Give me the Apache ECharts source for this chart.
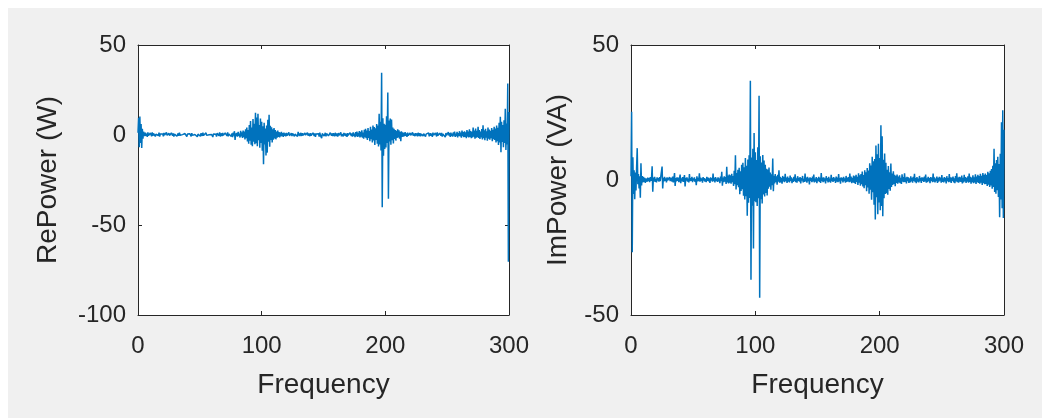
<!DOCTYPE html>
<html>
<head>
<meta charset="utf-8">
<script src="https://cdn.jsdelivr.net/npm/echarts@6/dist/echarts.min.js"></script>
<style>
  html, body { margin: 0; padding: 0; background: #fff; }
  #chart { width: 1050px; height: 420px; }
</style>
</head>
<body>
<div id="chart"></div>
<script>
const LINE_COLOR = '#0072BD';
const TEXT_COLOR = '#262626';
const FONT = 'Liberation Sans, Arial, Helvetica, sans-serif';

// frequency step of the samples (Hz), 0 .. 300
const freqStep = 0.5;
const freqTicks = [0, 100, 200, 300];
const reTicks = [-100, -50, 0, 50];
const imTicks = [-50, 0, 50];

// real power (W), one value per 0.5 Hz
const rePower = [
  1.2, 9.5, -6.8, 10.2, -4.5, 6.1, -7.2, 3.4, -2.1, 1.8,
  0.9, -0.6, 1.3, -0.4, 0.8, -1.1, 1.5, -0.3, 0.6, -0.9,
  1.1, 0.2, -0.7, 1.4, -0.5, 0.9, -0.2, 1.2, -0.8, 0.4,
  1.0, -0.6, 0.7, -0.3, 1.3, -0.9, 0.5, 0.1, 1.1, -0.4,
  0.6, -0.8, 1.2, 0.0, 0.9, -0.5, 1.4, -0.2, 0.3, -0.7,
  1.0, -0.3, 0.8, -0.6, 1.2, 0.2, -0.4, 0.9, -0.9, 0.5,
  0.7, -0.2, 1.1, -0.7, 0.4, 0.9, -0.5, 1.3, -0.1, 0.6,
  -0.8, 1.0, 0.2, -0.4, 1.2, -0.6, 0.8, 0.0, 1.1, -0.9,
  0.5, -0.3, 1.4, -0.5, 0.7, 0.1, -0.8, 1.0, -0.2, 0.6,
  0.9, -0.6, 0.3, 1.2, -0.4, 0.8, -1.0, 0.5, 1.1, -0.2,
  0.4, -0.7, 1.0, 0.2, -0.5, 1.3, -0.3, 0.7, -0.9, 0.6,
  1.2, -0.2, 0.5, -0.8, 0.9, 0.1, -0.4, 1.1, -0.6, 0.3,
  0.8, -1.1, 0.6, 0.2, 1.3, -0.5, 0.4, -0.9, 1.0, -0.1,
  0.7, -0.4, 1.5, -0.8, 0.3, 0.9, -0.6, 1.2, -0.2, 0.5,
  -0.9, 1.1, 0.0, 0.8, -0.5, 1.4, -0.7, 0.6, 0.2, -0.3,
  1.6, -0.8, 0.9, -1.2, 1.3, -0.4, 2.1, -2.8, 1.0, -0.6,
  1.2, -0.9, 1.8, -0.5, 0.7, -1.4, 2.3, -0.8, 1.5, -1.6,
  2.4, -1.2, 1.9, -2.5, 3.1, -1.8, 4.2, -3.6, 2.8, -4.8,
  5.5, -3.2, 7.8, -5.4, 4.1, -6.2, 8.9, -3.8, 6.3, -5.1,
  12.4, -4.6, 9.7, -6.3, 11.8, -2.9, 5.6, -7.1, 9.2, -4.4,
  7.3, -8.8, 4.9, -16.2, 6.8, -5.3, 3.6, -11.4, 5.2, -9.8,
  8.4, -3.7, 11.2, -6.5, 5.1, -2.8, 4.3, -4.1, 3.2, -2.6,
  3.8, -1.9, 2.7, -2.4, 1.9, -1.5, 2.4, -1.1, 1.6, -1.3,
  1.4, -0.8, 1.8, -0.6, 1.1, -1.0, 1.3, -0.4, 0.9, -0.7,
  1.2, -0.3, 0.8, -0.9, 1.5, -0.5, 0.6, 0.1, 1.0, -0.6,
  0.9, -0.2, 1.3, -0.7, 0.5, 1.1, -0.4, 0.8, -0.8, 1.7,
  -0.3, 0.9, -0.6, 1.2, 0.2, -0.5, 1.0, -0.2, 0.7, -0.9,
  1.1, -0.1, 0.6, -0.7, 1.3, -0.4, 0.8, 0.1, -0.6, 1.0,
  -0.3, 0.7, -0.8, 1.2, 0.3, -0.5, 0.9, -1.0, 0.6, 0.2,
  1.1, -0.4, 0.7, -0.9, 1.3, -0.2, 0.5, -1.8, 0.8, -0.3,
  1.0, -0.6, 0.4, 1.2, -0.7, 0.8, -0.1, 1.1, -0.5, 0.6,
  -0.8, 1.3, 0.2, -0.4, 0.9, -0.6, 1.0, 0.0, -0.7, 1.2,
  0.3, -0.5, 0.8, -0.9, 1.1, -0.2, 0.6, -0.4, 1.4, -0.7,
  0.5, 0.1, -0.8, 1.2, -0.3, 0.9, -0.6, 0.7, -1.1, 1.0,
  -0.2, 0.6, -0.7, 1.3, 0.2, -0.5, 0.9, -0.9, 1.5, -0.4,
  0.8, -1.2, 1.6, -0.6, 1.9, -1.0, 1.2, -0.8, 2.2, -1.3,
  1.7, -0.9, 2.6, -1.5, 1.4, -2.1, 2.9, -1.2, 3.4, -1.8,
  2.5, -2.8, 3.9, -1.6, 2.2, -3.4, 4.6, -2.4, 3.1, -4.2,
  5.2, -3.1, 4.4, -5.6, 3.7, -2.7, 6.1, -4.8, 5.3, -6.4,
  11.8, -5.2, 7.4, -8.6, 34.6, -40.2, 9.3, -11.5, 6.2, -7.8,
  5.7, -6.9, 10.4, -4.5, 23.6, -35.4, 8.1, -3.6, 9.2, -5.4,
  8.6, -2.9, 4.1, -4.7, 3.5, -2.2, 2.8, -3.1, 2.3, -1.7,
  3.1, -1.4, 2.6, -2.0, 1.8, -3.4, 2.1, -1.1, 1.5, -0.9,
  1.2, -0.7, 1.6, -0.5, 0.9, -1.1, 1.3, -0.3, 0.7, -0.8,
  1.1, -0.2, 0.6, -0.9, 1.4, -0.4, 0.8, 0.1, -0.6, 1.0,
  -0.3, 0.9, -0.7, 1.2, 0.2, -0.5, 1.0, -0.8, 0.6, 0.3,
  1.1, -0.6, 0.7, -0.2, 1.3, -0.9, 0.5, 0.0, 0.9, -0.4,
  1.2, -0.7, 0.4, 1.0, -0.5, 0.8, -1.0, 1.3, -0.1, 0.6,
  -0.6, 1.1, 0.2, -0.8, 1.4, -0.3, 0.7, -0.7, 1.0, 0.1,
  -0.4, 1.2, -0.9, 0.6, 1.5, -0.5, 0.9, -1.2, 1.1, -0.2,
  0.8, -0.7, 1.6, -0.3, 1.0, -1.1, 1.3, -0.6, 0.7, -0.9,
  1.4, -0.4, 1.9, -1.0, 0.8, -0.6, 1.7, -1.3, 1.1, -0.5,
  2.1, -0.8, 1.3, -1.5, 2.4, -0.7, 1.6, -1.2, 2.0, -1.0,
  1.5, -1.8, 2.7, -0.9, 1.9, -1.4, 3.2, -1.1, 2.2, -1.7,
  1.8, -1.3, 4.1, -0.9, 2.4, -2.0, 3.6, -1.5, 2.3, -1.2,
  4.6, -1.6, 2.8, -2.2, 1.9, -1.4, 3.3, -2.5, 5.4, -1.8,
  2.6, -2.9, 3.4, -1.5, 2.1, -3.2, 4.2, -2.0, 3.0, -2.6,
  2.4, -1.8, 3.8, -3.5, 2.9, -2.3, 4.5, -2.8, 3.6, -4.1,
  5.2, -3.4, 4.0, -5.6, 6.8, -4.2, 10.1, -9.6, 7.3, -3.9,
  5.6, -6.8, 8.2, -4.5, 14.6, -8.3, 6.4, -5.2, 28.6, -70.4,
  12.8
];

// imaginary power (VA), one value per 0.5 Hz
const imPower = [
  1.4, 25.3, -26.8, 8.4, -5.2, 3.6, -7.1, 2.8, -3.9, 4.5,
  11.8, -1.6, 2.2, -3.1, 1.4, -6.6, 6.2, -2.0, 1.5, -0.9,
  1.2, -0.7, 0.8, -1.1, 0.5, 1.0, -0.6, 0.9, -0.4, 0.7,
  -0.8, 1.1, -0.3, 0.6, 5.1, -4.3, 0.9, -0.5, 1.2, -0.7,
  0.4, -0.9, 1.0, -0.2, 0.7, -0.6, 1.1, -0.4, 0.3, -0.8,
  5.0, -3.1, 0.8, -0.5, 1.2, -0.3, 0.6, -0.9, 1.0, -0.1,
  0.5, -0.7, 1.1, -0.4, 0.8, 0.2, -0.6, 1.3, -0.9, 0.4,
  2.6, -2.2, 0.7, -0.5, 1.0, -0.3, 0.9, -0.8, 0.4, 2.0,
  -1.2, 0.6, -0.4, 1.1, -0.7, 0.3, 1.8, -2.4, 0.8, -0.2,
  1.0, -0.6, 0.5, -0.9, 2.2, -0.4, 0.7, -0.3, 1.2, -0.8,
  0.6, -0.2, 1.0, -0.7, 0.3, -1.9, 1.4, -0.5, 0.8, -0.4,
  2.5, -0.6, 0.9, -0.3, 0.6, -1.0, 1.1, -0.2, 0.7, -0.6,
  0.4, -0.8, 1.2, -0.3, 0.9, -0.5, 0.6, -1.1, 1.0, -0.2,
  0.7, -0.6, 2.4, -0.4, 0.8, -0.9, 1.1, -0.3, 0.5, -0.7,
  1.0, -0.5, 0.6, -1.2, 1.3, -0.4, 3.0, -2.1, 0.9, -0.8,
  1.4, -0.6, 1.1, -1.5, 4.9, -0.9, 1.6, -1.3, 2.0, -1.0,
  1.7, -1.4, 2.3, -0.8, 1.5, -2.2, 3.4, -1.6, 9.2, -3.5,
  2.6, -1.9, 3.8, -2.7, 4.5, -5.3, 3.2, -4.1, 5.6, -3.4,
  6.4, -5.8, 4.7, -7.2, 8.1, -6.0, 5.3, -13.2, 7.6, -8.4,
  9.2, -6.7, 36.8, -36.9, 8.3, -9.5, 11.6, -25.4, 17.4, -7.9,
  10.3, -8.2, 7.4, -9.6, 12.1, -6.8, 31.2, -43.6, 8.8, -7.1,
  6.5, -8.7, 9.3, -5.4, 7.2, -6.1, 5.6, -4.8, 4.2, -5.7,
  3.9, -3.2, 4.6, -2.5, 2.8, -3.6, 2.1, -1.9, 8.0, -4.2,
  1.6, -1.3, 2.2, -0.8, 1.4, -1.7, 1.9, -0.6, 3.6, -1.0,
  1.2, -0.9, 0.8, -1.4, 1.5, -0.5, 1.1, -0.8, 2.3, -0.4,
  0.9, -1.1, 1.3, -0.6, 0.7, -0.9, 1.6, -0.3, 1.0, -1.2,
  0.5, -0.7, 1.2, -0.4, 2.1, -0.8, 0.6, -1.0, 1.4, -0.3,
  0.8, -0.6, 1.1, -1.3, 0.7, -0.2, 1.5, -0.9, 0.4, -0.7,
  2.4, -0.5, 0.9, -1.0, 1.2, -0.4, 0.6, -1.6, 1.0, -0.3,
  0.7, -0.8, 1.3, -0.5, 2.0, -0.9, 0.5, -0.6, 1.1, -1.2,
  0.6, -0.3, 1.2, -0.7, 0.8, -1.1, 2.6, -0.4, 0.9, -0.8,
  1.0, -0.5, 0.6, -1.3, 1.4, -0.2, 0.7, -0.9, 1.2, -0.6,
  0.5, -1.0, 1.9, -0.4, 0.8, -0.7, 1.1, -0.3, 0.6, -1.1,
  1.3, -0.6, 0.9, -0.8, 2.2, -0.5, 0.7, -1.4, 1.0, -0.2,
  0.8, -0.9, 1.2, -0.4, 0.6, -1.0, 1.5, -0.7, 0.9, -0.5,
  1.1, -0.8, 2.4, -0.6, 1.3, -1.2, 0.8, -0.9, 1.6, -1.1,
  1.4, -1.5, 1.9, -0.7, 1.2, -1.8, 2.5, -1.0, 1.7, -2.1,
  2.2, -1.6, 3.1, -2.4, 1.8, -3.0, 3.6, -1.9, 2.9, -4.2,
  4.4, -2.8, 3.5, -5.1, 6.2, -3.6, 5.4, -7.3, 8.6, -4.5,
  6.9, -9.2, 7.8, -14.6, 12.8, -6.4, 9.5, -12.7, 13.4, -8.3,
  8.1, -11.2, 20.3, -9.6, 16.2, -13.4, 7.5, -6.8, 9.8, -5.2,
  6.4, -4.9, 3.8, -5.5, 5.2, -3.3, 2.9, -4.0, 6.1, -2.6,
  2.4, -1.8, 3.2, -1.5, 1.9, -2.3, 1.6, -1.1, 2.0, -1.4,
  1.3, -0.9, 1.7, -1.2, 0.8, -1.5, 2.1, -0.6, 1.1, -0.8,
  2.5, -0.7, 0.9, -1.3, 1.2, -0.4, 1.0, -1.1, 0.6, -0.9,
  1.4, -0.5, 0.8, -1.0, 1.2, -0.3, 2.3, -0.8, 0.7, -1.2,
  1.1, -0.6, 0.5, -0.9, 1.5, -0.4, 0.8, -1.1, 1.0, -0.3,
  0.9, -0.7, 1.3, -0.5, 2.0, -1.0, 0.6, -0.8, 1.2, -0.4,
  0.7, -1.2, 1.1, -0.3, 0.9, -0.8, 2.4, -0.6, 1.0, -0.9,
  0.5, -0.4, 1.3, -1.1, 0.8, -0.6, 1.2, -0.2, 0.9, -1.0,
  1.8, -0.7, 0.6, -0.9, 1.1, -0.5, 0.8, -1.3, 1.4, -0.4,
  0.7, -0.8, 2.2, -0.6, 1.0, -1.1, 0.9, -0.3, 1.3, -0.9,
  0.6, -1.2, 1.5, -0.5, 2.5, -0.8, 0.9, -1.0, 1.2, -0.6,
  1.0, -0.7, 1.6, -1.3, 0.8, -0.9, 1.9, -0.5, 1.1, -1.1,
  0.8, -0.6, 1.4, -1.0, 2.4, -0.7, 1.2, -1.4, 0.9, -0.8,
  1.7, -1.2, 1.0, -0.9, 2.1, -1.5, 1.3, -0.8, 1.9, -1.1,
  1.5, -1.4, 2.3, -1.0, 1.6, -1.8, 2.6, -1.2, 1.9, -1.6,
  2.4, -1.5, 1.8, -2.2, 3.0, -1.7, 2.5, -2.6, 3.4, -2.0,
  4.1, -3.2, 5.3, -2.6, 11.6, -4.4, 6.2, -5.1, 7.4, -3.8,
  8.6, -6.3, 5.9, -13.8, 9.7, -7.2, 21.4, -10.5, 25.8, -14.1,
  18.6
];

const withFreq = (val, index) => [index * freqStep, val];

const labelStyle = {
  color: TEXT_COLOR,
  fontFamily: FONT,
  fontSize: 24,
};

const nameStyle = { color: TEXT_COLOR, fontFamily: FONT, fontSize: 28 };

const lineStyle = { color: TEXT_COLOR, width: 1 };

function xAxisFor(gridIndex, position, visible) {
  return {
    type: 'value',
    gridIndex: gridIndex,
    position: position,
    min: freqTicks[0],
    max: freqTicks[freqTicks.length - 1],
    interval: 100,
    name: visible ? 'Frequency' : '',
    nameLocation: 'middle',
    nameGap: 56,
    nameTextStyle: nameStyle,
    axisLine: { show: true, onZero: false, lineStyle: lineStyle },
    axisTick: { show: true, inside: true, length: 4, lineStyle: lineStyle },
    axisLabel: Object.assign({ show: visible, margin: 19 }, labelStyle),
    splitLine: { show: false },
  };
}

function yAxisFor(gridIndex, position, ticks, name, nameGap) {
  const visible = position === 'left';
  return {
    type: 'value',
    gridIndex: gridIndex,
    position: position,
    min: ticks[0],
    max: ticks[ticks.length - 1],
    interval: 50,
    name: visible ? name : '',
    nameLocation: 'middle',
    nameGap: nameGap,
    nameTextStyle: nameStyle,
    axisLine: { show: true, onZero: false, lineStyle: lineStyle },
    axisTick: { show: true, inside: true, length: 4, lineStyle: lineStyle },
    axisLabel: Object.assign({ show: visible, margin: 12 }, labelStyle),
    splitLine: { show: false },
  };
}

function powerSeries(axisIndex, values) {
  return {
    type: 'line',
    xAxisIndex: axisIndex,
    yAxisIndex: axisIndex,
    data: values.map(withFreq),
    showSymbol: false,
    symbol: 'none',
    clip: true,
    lineStyle: { color: LINE_COLOR, width: 1.5 },
    itemStyle: { color: LINE_COLOR },
  };
}

const chartOptions = {
  animation: false,
  backgroundColor: '#ffffff',
  graphic: [{
    type: 'rect',
    left: 8,
    top: 8,
    shape: { width: 1034, height: 410 },
    style: { fill: '#f0f0f0' },
    z: -10,
  }],
  grid: [
    { left: 138, top: 45, width: 371, height: 270, show: true, backgroundColor: '#ffffff', borderWidth: 0 },
    { left: 631, top: 45, width: 373, height: 270, show: true, backgroundColor: '#ffffff', borderWidth: 0 },
  ],
  xAxis: [
    xAxisFor(0, 'bottom', true),
    xAxisFor(0, 'top', false),
    xAxisFor(1, 'bottom', true),
    xAxisFor(1, 'top', false),
  ],
  yAxis: [
    yAxisFor(0, 'left', reTicks, 'RePower (W)', 76),
    yAxisFor(0, 'right', reTicks, '', 0),
    yAxisFor(1, 'left', imTicks, 'ImPower (VA)', 59),
    yAxisFor(1, 'right', imTicks, '', 0),
  ],
  series: [
    powerSeries(0, rePower),
    powerSeries(2, imPower),
  ],
};

const chart = echarts.init(document.getElementById('chart'));
chart.setOption(chartOptions);
</script>
</body>
</html>
